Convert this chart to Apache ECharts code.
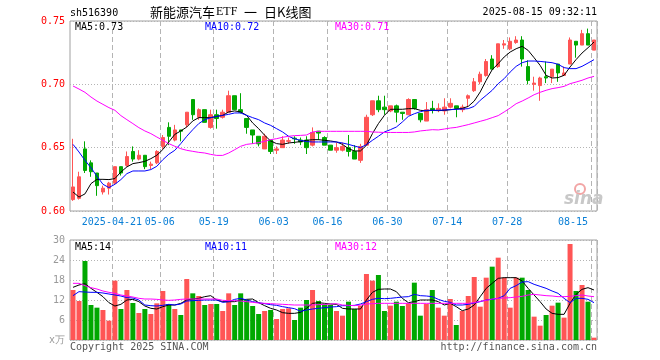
<!DOCTYPE html>
<html><head><meta charset="utf-8">
<script src="https://cdn.jsdelivr.net/npm/echarts@6/dist/echarts.min.js"></script>
<style>html,body{margin:0;padding:0;background:#fff}#c{width:660px;height:360px}</style>
</head><body><div id="c"></div>
<script>
const dates = [
'2025-04-10','2025-04-11','2025-04-14','2025-04-15','2025-04-16','2025-04-17','2025-04-18','2025-04-21','2025-04-22','2025-04-23','2025-04-24','2025-04-25','2025-04-28','2025-04-29','2025-04-30',
'2025-05-06','2025-05-07','2025-05-08','2025-05-09','2025-05-12','2025-05-13','2025-05-14','2025-05-15','2025-05-16','2025-05-19','2025-05-20','2025-05-21','2025-05-22','2025-05-23','2025-05-26','2025-05-27','2025-05-28','2025-05-29','2025-05-30',
'2025-06-03','2025-06-04','2025-06-05','2025-06-06','2025-06-09','2025-06-10','2025-06-11','2025-06-12','2025-06-13','2025-06-16','2025-06-17','2025-06-18','2025-06-19','2025-06-20','2025-06-23','2025-06-24','2025-06-25','2025-06-26','2025-06-27','2025-06-30',
'2025-07-01','2025-07-02','2025-07-03','2025-07-04','2025-07-07','2025-07-08','2025-07-09','2025-07-10','2025-07-11','2025-07-14','2025-07-15','2025-07-16','2025-07-17','2025-07-18','2025-07-21','2025-07-22','2025-07-23','2025-07-24','2025-07-25','2025-07-28','2025-07-29','2025-07-30','2025-07-31',
'2025-08-01','2025-08-04','2025-08-05','2025-08-06','2025-08-07','2025-08-08','2025-08-11','2025-08-12','2025-08-13','2025-08-14','2025-08-15'];
const tickDates = ['2025-04-21','2025-05-06','2025-05-19','2025-06-03','2025-06-16','2025-06-30','2025-07-14','2025-07-28','2025-08-15'];

const opens = [0.609,0.610,0.649,0.638,0.630,0.615,0.618,0.622,0.635,0.636,0.647,0.641,0.644,0.636,0.638,0.651,0.666,0.656,0.664,0.668,0.688,0.674,0.680,0.666,0.676,0.674,0.678,0.691,0.680,0.673,0.664,0.659,0.649,0.656,0.648,0.650,0.655,0.6575,0.656,0.656,0.652,0.663,0.658,0.652,0.648,0.648,0.650,0.647,0.640,0.652,0.676,0.687,0.682,0.679,0.683,0.678,0.676,0.688,0.677,0.671,0.681,0.6795,0.679,0.682,0.683,0.680,0.689,0.695,0.702,0.707,0.720,0.714,0.731,0.728,0.733,0.735,0.714,0.700,0.699,0.706,0.706,0.716,0.707,0.716,0.734,0.731,0.740,0.727];
const closes = [0.619,0.627,0.632,0.631,0.620,0.618,0.622,0.635,0.630,0.643,0.641,0.644,0.635,0.637,0.647,0.658,0.659,0.664,0.663,0.678,0.676,0.680,0.670,0.676,0.673,0.678,0.691,0.680,0.678,0.666,0.660,0.653,0.659,0.647,0.649,0.656,0.6555,0.657,0.6545,0.650,0.662,0.6615,0.652,0.648,0.650,0.651,0.647,0.641,0.651,0.674,0.687,0.680,0.680,0.683,0.678,0.677,0.688,0.681,0.672,0.680,0.6795,0.681,0.682,0.685,0.681,0.682,0.691,0.702,0.708,0.718,0.712,0.732,0.732,0.734,0.735,0.720,0.703,0.701,0.705,0.705,0.712,0.709,0.709,0.735,0.731,0.740,0.731,0.735];
const lows = [0.608,0.609,0.630,0.627,0.612,0.613,0.613,0.621,0.628,0.635,0.639,0.640,0.633,0.633,0.637,0.649,0.652,0.655,0.655,0.666,0.672,0.672,0.670,0.665,0.665,0.673,0.678,0.680,0.677,0.661,0.653,0.651,0.649,0.645,0.645,0.650,0.653,0.653,0.652,0.645,0.651,0.656,0.652,0.648,0.646,0.647,0.643,0.641,0.638,0.652,0.675,0.678,0.676,0.678,0.670,0.672,0.676,0.680,0.670,0.671,0.677,0.678,0.676,0.681,0.674,0.678,0.682,0.694,0.700,0.706,0.712,0.713,0.728,0.727,0.732,0.714,0.700,0.695,0.687,0.701,0.701,0.702,0.707,0.716,0.721,0.731,0.731,0.727];
const highs = [0.657,0.631,0.655,0.640,0.630,0.620,0.623,0.635,0.635,0.647,0.651,0.648,0.644,0.639,0.648,0.660,0.670,0.668,0.664,0.678,0.688,0.681,0.680,0.680,0.680,0.680,0.695,0.691,0.693,0.673,0.664,0.659,0.661,0.656,0.651,0.659,0.658,0.659,0.658,0.659,0.666,0.663,0.659,0.652,0.654,0.654,0.660,0.652,0.653,0.676,0.687,0.691,0.691,0.683,0.684,0.678,0.689,0.688,0.677,0.686,0.687,0.685,0.689,0.689,0.683,0.684,0.692,0.705,0.710,0.720,0.723,0.732,0.735,0.737,0.738,0.738,0.719,0.706,0.706,0.718,0.712,0.716,0.714,0.737,0.734,0.743,0.744,0.735];

const ma5 = [0.615,0.611,0.6135,0.6216,0.625,0.625,0.6248,0.6256,0.6308,0.6348,0.6374,0.6382,0.6392,0.6413,0.644,0.6485,0.6545,0.6605,0.6632,0.6663,0.6711,0.6737,0.6737,0.6737,0.6747,0.6755,0.6782,0.679,0.6782,0.6755,0.6695,0.665,0.6598,0.6553,0.6532,0.6526,0.6537,0.6542,0.6548,0.6558,0.6563,0.6563,0.6558,0.6553,0.6545,0.6526,0.6492,0.6474,0.6474,0.6519,0.6611,0.669,0.6755,0.6803,0.6803,0.6803,0.6808,0.6808,0.6795,0.679,0.6795,0.6792,0.6795,0.68,0.6805,0.681,0.6826,0.6868,0.694,0.7032,0.7116,0.7163,0.7216,0.7255,0.7281,0.73,0.7268,0.721,0.715,0.7071,0.705,0.7053,0.7071,0.7137,0.7195,0.7247,0.7289,0.7334];
const ma10 = [0.6526,0.6466,0.64,0.6342,0.6274,0.6211,0.6185,0.6211,0.6248,0.6295,0.6316,0.6316,0.6316,0.6327,0.6353,0.6405,0.6448,0.6479,0.6532,0.659,0.6642,0.669,0.6721,0.6737,0.6747,0.6755,0.6763,0.6774,0.6774,0.6755,0.6737,0.6721,0.6695,0.6676,0.665,0.6624,0.659,0.6569,0.6558,0.6548,0.6545,0.6545,0.6545,0.6545,0.6545,0.6537,0.6526,0.6513,0.65,0.6524,0.6558,0.659,0.6624,0.6642,0.6663,0.6703,0.6747,0.6768,0.6784,0.6795,0.6795,0.6795,0.6797,0.68,0.6803,0.6805,0.6808,0.6826,0.6874,0.6913,0.6953,0.7005,0.7045,0.7097,0.7142,0.7171,0.7184,0.7184,0.7181,0.7176,0.7171,0.7158,0.7132,0.7124,0.7124,0.7142,0.7168,0.7195];
const ma30 = [0.6987,0.6963,0.6937,0.69,0.6868,0.6842,0.6816,0.6795,0.6753,0.6721,0.669,0.6658,0.6632,0.6611,0.6584,0.6558,0.6532,0.6511,0.6492,0.6479,0.6471,0.6463,0.6458,0.6447,0.6439,0.6439,0.6458,0.6484,0.6511,0.6526,0.6532,0.654,0.655,0.6563,0.6571,0.6582,0.659,0.6595,0.6597,0.66,0.6624,0.6629,0.6629,0.6629,0.6629,0.6629,0.6629,0.6629,0.6629,0.6629,0.6624,0.6622,0.662,0.662,0.662,0.662,0.662,0.6624,0.6632,0.6637,0.6642,0.664,0.6647,0.6655,0.666,0.6671,0.6682,0.6695,0.6708,0.6721,0.6737,0.6753,0.6782,0.6813,0.6847,0.6868,0.6892,0.6918,0.6937,0.6953,0.6966,0.6974,0.6984,0.7005,0.7018,0.7032,0.705,0.7063];

const volumes = [15,11.7,23.7,10.5,9.7,9.0,5.8,17.8,9.3,15,11.1,8.1,9.3,7.8,11,14.7,10.8,9.3,7.5,18.3,14,13.2,10.5,10.8,10.8,8.7,14,10.5,14,12,10.2,7.8,8.7,9.0,6.3,9.3,9.5,6.0,9.7,12,15,11.7,10.7,10.5,8.7,7.3,11.5,9.3,10.3,19.8,17.8,19.5,8.7,10.3,11.5,10.2,11,17.2,7.3,10.8,15,9.7,7.3,12.3,4.5,8.7,13.2,18.9,10,18.7,22,24.7,18.7,9.7,18.7,18.7,15,7,4.3,7.5,10.3,11.2,6.7,28.8,14.7,16.5,11.5,0.7];
const volMa5 = [15.8,16.5,16.9,15.5,14.3,13,11.2,10.2,10.7,12,12.2,11.5,10.2,9.5,9.3,10,10.5,10.5,11,12,12.3,12.5,13,13.3,12,11.5,11.5,11.5,12,12.2,12.3,11.2,10.3,9.5,9,8.2,8,8,8.3,9.5,11,11.2,11,10.8,10.7,9.5,9.3,9.3,9.3,12,14.3,15.2,15.3,15.3,14.5,12.5,11.2,11.5,12,12,12,11.5,10.5,11,10,8.8,9.3,10.5,13,15.5,17,18.5,18.7,18.7,18.7,17.7,15.5,13.5,11.5,9.3,8,7.7,7.7,11,13.7,15.2,15.7,15];
const volMa10 = [13.3,14.5,14.4,14.3,14.3,14.1,13.8,13.5,13.2,12.7,12.6,12,10.5,10.3,10.2,10.4,10.7,10.5,10.8,11.7,11.8,11.9,12,12,12,11.3,11.5,12.2,12.5,12,11.5,11.2,10.9,10.6,10.4,10,9.7,9.4,8.6,9,9.3,9.5,9.7,9.9,10,10.3,10.3,10.4,10.8,11.5,12.2,12.5,12.4,12.5,12.7,12.9,13,13.7,13.3,13.2,13,12.2,11.6,11.3,10.5,10.5,10.7,11.1,11.5,12,12.2,12.5,13.3,15.5,16.3,17.4,17.5,16.7,16.1,15.5,14.7,14,12.5,11.2,12.5,12.5,12.2,11.2];
const volMa30 = [17,17,16.3,15.7,15.3,14.7,14.3,14,13.5,13.2,12.9,12.5,12.3,12.3,12.2,12,11.9,12,12.2,12.3,12.3,12.3,12.3,12.3,12.3,11.9,11.8,11.8,11.7,11.5,11.3,11.1,11,10.9,10.8,10.7,10.6,10.5,10.5,10.5,10.5,10.6,10.7,10.8,10.9,10.5,10.4,10.3,10.5,10.8,10.9,11,11,11,11,11,11,11,11,11,11,11,11,11,11,11,11,11.2,11.6,11.9,12.3,12.5,12.6,12.7,12.9,13.1,13.5,13.7,13.5,13.3,13.2,13,13,13.1,13.3,13.5,13.2,13];

const MONO = 'DejaVu Sans Mono';
const CJK = 'Noto Sans CJK SC';
const RED = '#ff5555', GREEN = '#00a800';
const chart = echarts.init(document.getElementById('c'));
const kData = dates.map((d, i) => [opens[i], closes[i], lows[i], highs[i]]);
const volData = volumes.map((v, i) => ({ value: v, itemStyle: { color: closes[i] >= opens[i] ? RED : GREEN } }));
const isTick = (idx, val) => tickDates.indexOf(val) >= 0;
const dashLine = { show: true, interval: isTick, lineStyle: { color: '#b4b4b4', type: [5, 3], width: 1 } };
function xAx(gi, showLabel) {
  return {
    type: 'category', gridIndex: gi, data: dates, boundaryGap: true,
    axisLine: { show: false }, axisTick: { show: false },
    axisLabel: {
      show: showLabel, interval: isTick, color: '#0a7fd6', fontFamily: MONO, fontSize: 10, margin: 6,
      padding: [0, 6, 0, 0], alignMaxLabel: 'right',
      formatter: v => v === tickDates[0] ? v : v.slice(5)
    },
    splitLine: dashLine
  };
}
const dotted = { show: true, lineStyle: { color: '#b4b4b4', type: [1, 2], width: 1 } };
function maLine(data, color, xi, yi) {
  return { type: 'line', data: data, xAxisIndex: xi, yAxisIndex: yi, symbol: 'none', showSymbol: false,
    lineStyle: { width: 1, color: color }, itemStyle: { color: color }, silent: true, z: 3 };
}
function txt(text, x, y, color, size, align, family) {
  return { type: 'text', x: x, y: y, silent: true, z: 10,
    style: { text: text, fill: color, fontSize: size || 10, fontFamily: family || MONO,
      textAlign: align || 'left', textVerticalAlign: 'middle' } };
}
chart.setOption({
  animation: false,
  backgroundColor: '#fff',
  grid: [
    { left: 70, top: 21, width: 527, height: 190, show: true, borderColor: '#a0a0a0', borderWidth: 1, backgroundColor: 'transparent' },
    { left: 70, top: 240, width: 527, height: 100, show: true, borderColor: '#a0a0a0', borderWidth: 1, backgroundColor: 'transparent' }
  ],
  xAxis: [xAx(0, true), xAx(1, false)],
  yAxis: [
    { type: 'value', gridIndex: 0, min: 0.60, max: 0.75, interval: 0.05,
      axisLine: { show: false }, axisTick: { show: false },
      axisLabel: { color: '#ff0000', fontFamily: MONO, fontSize: 10, margin: 5, formatter: v => v.toFixed(2) },
      splitLine: dotted },
    { type: 'value', gridIndex: 1, min: 0, max: 30, interval: 6,
      axisLine: { show: false }, axisTick: { show: false },
      axisLabel: { color: '#999', fontFamily: MONO, fontSize: 10, margin: 5, formatter: v => v === 0 ? 'x万' : String(v) },
      splitLine: dotted }
  ],
  series: [
    { type: 'candlestick', data: kData, xAxisIndex: 0, yAxisIndex: 0, barWidth: 4,
      itemStyle: { color: RED, color0: GREEN, borderColor: RED, borderColor0: GREEN, borderWidth: 1 } },
    maLine(ma5, '#000000', 0, 0), maLine(ma10, '#0000ff', 0, 0), maLine(ma30, '#ff00ff', 0, 0),
    { type: 'bar', data: volData, xAxisIndex: 1, yAxisIndex: 1, barWidth: 5 },
    maLine(volMa5, '#000000', 1, 1), maLine(volMa10, '#0000ff', 1, 1), maLine(volMa30, '#ff00ff', 1, 1)
  ],
  graphic: [
    txt('sh516390', 70, 13, '#000'),
    txt('新能源汽车', 150, 12, '#000', 13, 'left', CJK),
    txt('ETF', 216, 12, '#000', 12, 'left', 'Liberation Serif'),
    txt('一', 244, 12, '#000', 13, 'left', CJK),
    txt('日K线图', 264, 12, '#000', 13, 'left', CJK),
    txt('2025-08-15 09:32:11', 597, 12, '#000', 10, 'right'),
    txt('MA5:0.73', 75, 27, '#000'),
    txt('MA10:0.72', 205, 27, '#0000ff'),
    txt('MA30:0.71', 335, 27, '#ff00ff'),
    txt('MA5:14', 75, 247, '#000'),
    txt('MA10:11', 205, 247, '#0000ff'),
    txt('MA30:12', 335, 247, '#ff00ff'),
    txt('Copyright 2025 SINA.COM', 70, 347, '#555'),
    txt('http://finance.sina.com.cn', 597, 347, '#555', 10, 'right'),
    { type: 'circle', shape: { cx: 580, cy: 189, r: 5 }, style: { fill: 'none', stroke: '#f2a5a5', lineWidth: 2 }, silent: true, z: 1 },
    { type: 'text', x: 564, y: 200, silent: true, z: 1,
      style: { text: 'sina', fill: '#c8c8c8', fontSize: 17, fontWeight: 'bold', fontStyle: 'italic', fontFamily: 'DejaVu Sans', textVerticalAlign: 'middle' } }
  ]
});
</script></body></html>
